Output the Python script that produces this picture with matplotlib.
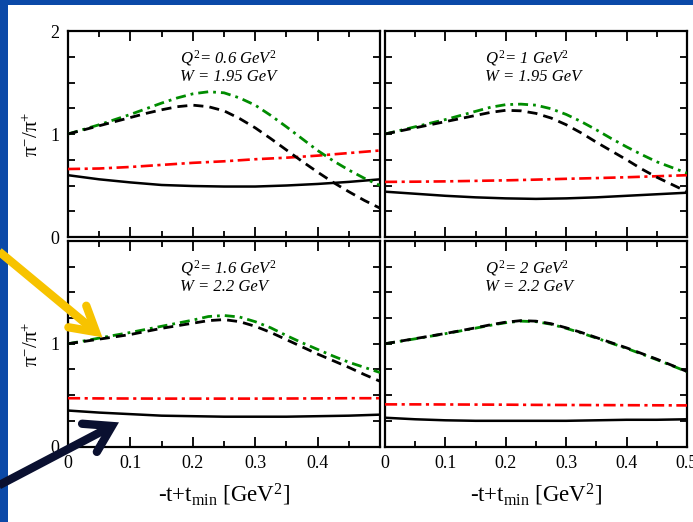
import math
import matplotlib
matplotlib.use("Agg")
import matplotlib.pyplot as plt
from matplotlib.patches import Rectangle
from matplotlib.lines import Line2D
from matplotlib.ticker import MultipleLocator, FixedLocator, FixedFormatter

plt.rcParams['font.family'] = ['Liberation Serif', 'DejaVu Serif']
plt.rcParams['mathtext.fontset'] = 'custom'
plt.rcParams['mathtext.rm'] = 'Liberation Serif'
plt.rcParams['mathtext.it'] = 'Liberation Serif:italic'

# ---------------- data ----------------
t21 = [0.0, 0.025, 0.05, 0.075, 0.10, 0.125, 0.15, 0.175, 0.20, 0.225, 0.25,
       0.275, 0.30, 0.325, 0.35, 0.375, 0.40, 0.425, 0.45, 0.475, 0.50]
t11 = [0.0, 0.05, 0.10, 0.15, 0.20, 0.25, 0.30, 0.35, 0.40, 0.45, 0.50]

panel_q2 = ["0.6", "1", "1.6", "2"]
panel_w = ["1.95", "1.95", "2.2", "2.2"]

green_06 = [1.00, 1.045, 1.09, 1.14, 1.19, 1.245, 1.30, 1.35, 1.39, 1.41, 1.40,
            1.35, 1.28, 1.18, 1.07, 0.955, 0.84, 0.74, 0.65, 0.57, 0.50]
dash_06 = [1.00, 1.04, 1.08, 1.12, 1.16, 1.20, 1.235, 1.265, 1.28, 1.265, 1.225,
           1.15, 1.06, 0.955, 0.845, 0.735, 0.63, 0.53, 0.44, 0.355, 0.28]
red_06 = [0.66, 0.665, 0.68, 0.70, 0.72, 0.735, 0.755, 0.77, 0.79, 0.815, 0.84]
solid_06 = [0.60, 0.56, 0.53, 0.505, 0.495, 0.49, 0.49, 0.50, 0.515, 0.535, 0.56]

green_10 = [1.00, 1.035, 1.07, 1.105, 1.14, 1.18, 1.22, 1.26, 1.285, 1.29, 1.28,
            1.245, 1.19, 1.12, 1.04, 0.955, 0.875, 0.80, 0.73, 0.675, 0.62]
dash_10 = [1.00, 1.03, 1.06, 1.09, 1.12, 1.15, 1.18, 1.21, 1.23, 1.225, 1.20,
           1.155, 1.09, 1.01, 0.92, 0.835, 0.75, 0.66, 0.58, 0.51, 0.44]
red_10 = [0.535, 0.537, 0.54, 0.545, 0.55, 0.557, 0.565, 0.572, 0.58, 0.59, 0.60]
solid_10 = [0.44, 0.42, 0.40, 0.385, 0.375, 0.37, 0.375, 0.385, 0.40, 0.415, 0.43]

green_16 = [1.00, 1.027, 1.055, 1.083, 1.11, 1.14, 1.17, 1.20, 1.23, 1.265, 1.275,
            1.26, 1.215, 1.155, 1.08, 1.01, 0.945, 0.88, 0.82, 0.77, 0.72]
dash_16 = [1.00, 1.022, 1.045, 1.067, 1.09, 1.12, 1.15, 1.175, 1.20, 1.225, 1.235,
           1.215, 1.17, 1.11, 1.04, 0.97, 0.90, 0.835, 0.77, 0.70, 0.635]
red_16 = [0.47, 0.468, 0.467, 0.466, 0.466, 0.466, 0.466, 0.467, 0.468, 0.47, 0.47]
solid_16 = [0.35, 0.33, 0.315, 0.30, 0.295, 0.29, 0.29, 0.29, 0.295, 0.30, 0.31]

green_20 = [1.00, 1.024, 1.048, 1.073, 1.098, 1.125, 1.152, 1.18, 1.205, 1.22, 1.215,
            1.19, 1.15, 1.105, 1.055, 1.005, 0.955, 0.90, 0.845, 0.787, 0.728]
dash_20 = [1.00, 1.025, 1.05, 1.075, 1.10, 1.127, 1.155, 1.185, 1.21, 1.225, 1.22,
           1.195, 1.155, 1.11, 1.06, 1.01, 0.96, 0.905, 0.85, 0.79, 0.73]
red_20 = [0.41, 0.41, 0.409, 0.408, 0.407, 0.405, 0.404, 0.403, 0.402, 0.401, 0.40]
solid_20 = [0.28, 0.265, 0.255, 0.25, 0.25, 0.25, 0.25, 0.255, 0.26, 0.26, 0.265]

green_all = [green_06, green_10, green_16, green_20]
dash_all = [dash_06, dash_10, dash_16, dash_20]
red_all = [red_06, red_10, red_16, red_20]
solid_all = [solid_06, solid_10, solid_16, solid_20]

x_ticks = [0.0, 0.1, 0.2, 0.3, 0.4, 0.5]
x_labels_left = ["0", "0.1", "0.2", "0.3", "0.4", ""]
x_labels_right = ["0", "0.1", "0.2", "0.3", "0.4", "0.5"]
y_ticks = [0, 1, 2]
y_labels_top = ["0", "1", "2"]
y_labels_bottom = ["0", "1", ""]

# ---------------- layout ----------------
W, H = 693, 522
fig = plt.figure(figsize=(W / 100, H / 100), dpi=100)
fig.patch.set_facecolor('white')

def rect(x0, x1, ytop, ybot):
    return [x0 / W, 1 - ybot / H, (x1 - x0) / W, (ybot - ytop) / H]

boxes = [rect(68, 380, 31, 237), rect(385, 687, 31, 237),
         rect(68, 380, 241, 446.5), rect(385, 687, 241, 446.5)]

GREEN = '#008c00'
RED = '#ff0000'
txt_x = [0.36, 0.33, 0.36, 0.33]

for i, box in enumerate(boxes):
    ax = fig.add_axes(box)
    ax.set_xlim(0, 0.5)
    ax.set_ylim(0, 2)
    ax.plot(t11, solid_all[i], color='black', lw=1.8, ls='-', zorder=3)
    ax.plot(t11, red_all[i], color=RED, lw=1.9, dashes=(4.6, 1.7, 1.2, 1.7), zorder=3)
    ax.plot(t21, green_all[i], color=GREEN, lw=2.0, dashes=(3.6, 1.8, 1.0, 1.8), zorder=3)
    ax.plot(t21, dash_all[i], color='black', lw=2.0, dashes=(3.6, 2.2), zorder=4)

    for s in ax.spines.values():
        s.set_linewidth(1.6)
    ax.xaxis.set_major_locator(FixedLocator(x_ticks))
    ax.xaxis.set_minor_locator(MultipleLocator(0.05))
    ax.yaxis.set_major_locator(FixedLocator(y_ticks))
    ax.yaxis.set_minor_locator(MultipleLocator(0.25))
    ax.tick_params(which='both', direction='in', top=True, right=True,
                   width=1.3, labelsize=13, pad=6)
    ax.tick_params(axis='x', which='major', length=7)
    ax.tick_params(axis='x', which='minor', length=4)
    ax.tick_params(axis='y', which='both', length=5)

    col = i % 2
    row = i // 2
    if row == 1:
        ax.xaxis.set_major_formatter(FixedFormatter(x_labels_left if col == 0 else x_labels_right))
    else:
        ax.set_xticklabels([])
    if col == 0:
        ax.yaxis.set_major_formatter(FixedFormatter(y_labels_top if row == 0 else y_labels_bottom))
    else:
        ax.set_yticklabels([])

    ax.text(txt_x[i], 0.87, r"$\mathit{Q}^{\mathit{2}}$= " + panel_q2[i] + r" GeV$^{\mathit{2}}$",
            transform=ax.transAxes, fontsize=12, style='italic', va='center', ha='left')
    ax.text(txt_x[i], 0.775, "W = " + panel_w[i] + " GeV",
            transform=ax.transAxes, fontsize=12, style='italic', va='center', ha='left')

# axis labels
for yc in (134, 344):
    fig.text(33 / W, 1 - yc / H, r"π$^{-}$/π$^{+}$", rotation=90, fontsize=15,
             ha='center', va='center')
for xc in (224, 536):
    fig.text(xc / W, 1 - 495 / H, r"-t+t$_{\mathrm{min}}$ [GeV$^{2}$]", fontsize=16.5,
             ha='center', va='center')

# slide background elements
BLUE = '#0b49a8'
fig.add_artist(Rectangle((0, 0), 8 / W, 1, transform=fig.transFigure,
                         facecolor=BLUE, edgecolor='none', zorder=10))
fig.add_artist(Rectangle((0, 1 - 5 / H), 1, 5 / H, transform=fig.transFigure,
                         facecolor=BLUE, edgecolor='none', zorder=10))

# arrows drawn as thick shaft + open chevron head (pixel coordinates, y down)
def arrow(x0, y0, x1, y1, color, arm_len, arm_ang, lw):
    dx, dy = x0 - x1, y0 - y1
    base = math.atan2(dy, dx)
    pts = []
    for s in (1, -1):
        a = base + s * math.radians(arm_ang)
        pts.append((x1 + arm_len * math.cos(a), y1 + arm_len * math.sin(a)))
    def f(p):
        return (p[0] / W, 1 - p[1] / H)
    shaft = Line2D([f((x0, y0))[0], f((x1, y1))[0]], [f((x0, y0))[1], f((x1, y1))[1]],
                   transform=fig.transFigure, color=color, lw=lw,
                   solid_capstyle='butt', zorder=20)
    head_pts = [f(pts[0]), f((x1, y1)), f(pts[1])]
    head = Line2D([p[0] for p in head_pts], [p[1] for p in head_pts],
                  transform=fig.transFigure, color=color, lw=lw,
                  solid_capstyle='round', solid_joinstyle='miter', zorder=20)
    fig.add_artist(shaft)
    fig.add_artist(head)

arrow(-10, 244, 96, 332, '#f7c300', 28, 30, 6)
arrow(-10, 490, 112, 426, '#0a1030', 30, 32, 6)

fig.savefig("out.png", dpi=100)
